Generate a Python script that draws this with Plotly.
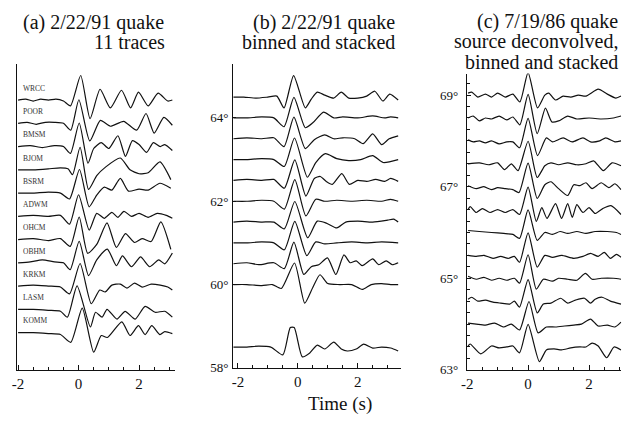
import plotly.graph_objects as go

# ---------------- data ----------------
# Panel (a): 2/22/91 quake, 11 station traces (time s, amplitude)
STATIONS = ["WRCC", "POOR", "BMSM", "BJOM", "BSRM", "ADWM", "OHCM", "OBHM", "KRKM", "LASM", "KOMM"]
WRCC = [(-2.0,0),(-1.75,1),(-1.5,-1),(-1.25,1),(-1.0,0),(-0.75,1),(-0.5,-1),(-0.27,-6),(0.07,25),(0.38,-19),(0.71,11),(1.05,-8),(1.42,10),(1.72,-8),(1.98,8),(2.3,-6),(2.63,7),(2.95,-1),(3.1,0)]
POOR = [(-2.0,0),(-1.7,1),(-1.4,-1),(-1.1,1),(-0.8,1),(-0.5,0),(-0.26,-7),(0.01,24),(0.37,-18),(0.72,3),(1.05,-3),(1.49,2),(1.92,-7),(2.23,10),(2.5,-10),(2.82,6),(3.1,-2)]
BMSM = [(-2.0,0),(-1.6,1),(-1.2,-1),(-0.8,1),(-0.5,0),(-0.27,-7),(0.02,24),(0.31,-17),(0.5,-2),(0.75,4),(1.0,-2),(1.3,11),(1.55,-10),(1.78,6),(2.0,2),(2.25,-6),(2.47,4),(2.7,0),(2.85,2),(3.1,-4)]
BJOM = [(-2.0,0),(-1.5,0),(-1.0,1),(-0.6,2),(-0.35,1),(-0.2,-5),(0.05,23),(0.33,-20),(0.6,-6),(0.9,3),(1.38,12),(1.7,0),(2.0,-4),(2.3,-3),(2.69,8),(3.05,-10)]
BSRM = [(-2.0,0),(-1.5,0),(-1.0,1),(-0.6,0),(-0.3,-6),(0.03,24),(0.35,-14),(0.6,-2),(0.85,6),(1.1,3),(1.38,15),(1.65,2),(2.0,4),(2.3,3),(2.69,10),(3.05,5)]
ADWM = [(-2.0,0),(-1.5,1),(-1.0,0),(-0.6,1),(-0.3,-8),(0.0,22),(0.35,-14),(0.6,3),(0.85,-2),(1.1,4),(1.3,-1),(1.5,5),(1.75,0),(2.0,3),(2.3,-1),(2.6,3),(2.9,1),(3.1,-2)]
OHCM = [(-2.0,0),(-1.5,1),(-1.0,-1),(-0.6,1),(-0.28,-7),(0.02,23),(0.3,-14),(0.6,-5),(0.94,17),(1.25,-8),(1.55,6),(1.85,-3),(2.1,1),(2.4,-2),(2.72,18),(3.05,-10)]
OBHM = [(-2.0,0),(-1.6,1),(-1.2,3),(-0.8,1),(-0.5,0),(-0.28,-7),(0.02,22),(0.33,-13),(0.6,3),(0.95,14),(1.25,-3),(1.45,7),(1.75,-4),(2.05,6),(2.35,-4),(2.65,3),(2.85,-1),(3.1,10)]
KRKM = [(-2.0,0),(-1.5,1),(-1.0,0),(-0.6,-1),(-0.3,-8),(0.05,23),(0.42,-18),(0.7,-4),(0.88,-6),(1.1,1),(1.38,2),(1.6,-2),(1.85,3),(2.1,-1),(2.4,2),(2.7,1),(2.95,-1),(3.1,-4)]
LASM = [(-2.0,0),(-1.5,0),(-1.0,-1),(-0.6,-2),(-0.37,-8),(-0.05,24),(0.39,-18),(0.56,-3),(0.78,-8),(0.94,0),(1.27,-10),(1.54,-2),(1.87,-10),(2.2,3),(2.53,-3),(2.85,-2),(3.1,-8)]
KOMM = [(-2.0,0),(-1.5,0),(-1.0,-1),(-0.6,-2),(-0.26,-10),(0.12,25),(0.5,-20),(0.75,-3),(0.95,-5),(1.43,11),(1.7,-3),(1.98,7),(2.2,-2),(2.42,7),(2.69,-2),(2.85,1),(3.1,-1)]
A_TRACES = [WRCC, POOR, BMSM, BJOM, BSRM, ADWM, OHCM, OBHM, KRKM, LASM, KOMM]

# Panel (b): 2/22/91 quake binned and stacked, latitude bins (deg)
B_LATS = [64.5, 64.0, 63.5, 63.0, 62.5, 62.0, 61.5, 61.0, 60.5, 60.0, 58.5]
B1 = [(-2.15,0),(-1.8,0),(-1.4,-1),(-1.0,0),(-0.7,1),(-0.46,-11),(-0.14,22),(0.25,-11),(0.45,-2),(0.65,5),(0.9,2),(1.2,-1),(1.45,5),(1.7,-1),(2.0,-1),(2.3,1),(2.57,6),(2.84,-4),(3.07,3),(3.35,-3)]
B2 = [(-2.15,0),(-1.7,0),(-1.2,1),(-0.8,0),(-0.46,-9),(-0.13,21),(0.25,-10),(0.5,-5),(0.86,6),(1.2,0),(1.5,1),(2.0,0),(2.5,2),(2.9,0),(3.1,1),(3.35,0)]
B3 = [(-2.15,0),(-1.7,1),(-1.2,0),(-0.8,1),(-0.46,-8),(-0.13,22),(0.25,-10),(0.55,-1),(0.9,4),(1.2,0),(1.5,1),(1.9,0),(2.18,-5),(2.5,5),(2.8,-6),(3.05,0),(3.35,3)]
B4 = [(-2.15,0),(-1.7,0),(-1.2,1),(-0.8,0),(-0.45,-7),(-0.11,22),(0.32,-18),(0.6,-3),(0.92,6),(1.3,1),(1.7,-1),(2.1,0),(2.5,4),(2.85,-3),(3.35,0)]
B5 = [(-2.15,0),(-1.7,1),(-1.2,0),(-0.8,1),(-0.45,-8),(-0.1,21),(0.27,-16),(0.55,2),(0.75,4),(0.95,-1),(1.15,-4),(1.47,7),(1.72,-4),(2.0,0),(2.3,-1),(2.6,1),(2.9,-1),(3.1,2),(3.35,-1)]
B6 = [(-2.15,0),(-1.7,0),(-1.2,1),(-0.8,0),(-0.45,-8),(-0.1,22),(0.27,-15),(0.6,2),(0.9,0),(1.3,1),(1.8,0),(2.3,1),(2.8,0),(3.1,2),(3.35,0)]
B7 = [(-2.15,0),(-1.7,1),(-1.2,0),(-0.8,0),(-0.45,-7),(-0.1,21),(0.33,-16),(0.65,1),(0.95,-1),(1.3,-6),(1.6,0),(2.0,1),(2.5,0),(3.0,2),(3.2,3),(3.35,0)]
B8 = [(-2.15,0),(-1.7,0),(-1.2,1),(-0.8,0),(-0.45,-7),(-0.1,22),(0.3,-13),(0.6,1),(0.9,-1),(1.3,0),(1.8,1),(2.3,0),(2.8,1),(3.35,0)]
B9 = [(-2.15,0),(-1.7,1),(-1.3,-1),(-0.8,1),(-0.45,-5),(-0.13,22),(0.2,-11),(0.45,-3),(0.7,-1),(0.99,6),(1.27,-11),(1.54,9),(1.75,1),(1.95,3),(2.15,-2),(2.5,5),(2.7,-1),(2.95,3),(3.15,-1),(3.35,1)]
B10 = [(-2.15,0),(-1.7,0),(-1.2,-1),(-0.85,0),(-0.55,-4),(-0.11,22),(0.23,-19),(0.5,-3),(0.74,10),(1.0,1),(1.4,0),(1.8,0),(2.15,-5),(2.45,0),(2.8,1),(3.1,0),(3.35,0)]
B11 = [(-2.15,0),(-1.7,0),(-1.3,1),(-0.9,0),(-0.5,-8),(-0.25,20),(-0.12,20),(0.15,-10),(0.4,-6),(0.65,2),(0.9,-2),(1.2,5),(1.45,-2),(1.65,-4),(1.95,-2),(2.2,3),(2.5,-1),(2.8,0),(3.1,-1),(3.35,-4)]
B_TRACES = [B1, B2, B3, B4, B5, B6, B7, B8, B9, B10, B11]

# Panel (c): 7/19/86 quake, source deconvolved, binned and stacked
C_LATS = [69.0, 68.5, 68.0, 67.5, 67.0, 66.5, 66.0, 65.5, 65.0, 64.5, 64.0, 63.5]
C1 = [(-1.97,2),(-1.85,3),(-1.65,-2),(-1.4,1),(-1.2,-2),(-1.0,2),(-0.75,-2),(-0.5,1),(-0.27,-7),(0.0,23),(0.31,-13),(0.55,0),(0.68,2),(0.9,-5),(1.15,-1),(1.4,-2),(1.65,0),(1.9,-1),(2.3,6),(2.6,1),(2.88,-3),(3.05,-1)]
C2 = [(-1.97,0),(-1.8,2),(-1.6,-3),(-1.4,0),(-1.2,-1),(-0.95,2),(-0.7,-2),(-0.5,1),(-0.27,-7),(0.0,24),(0.3,-16),(0.57,10),(0.78,-4),(1.0,-3),(1.3,2),(1.6,-1),(2.0,0),(2.4,-1),(2.8,0),(3.05,2)]
C3 = [(-1.97,1),(-1.8,-1),(-1.6,0),(-1.4,-2),(-1.2,0),(-0.95,-3),(-0.7,-1),(-0.5,-1),(-0.28,-7),(0.0,23),(0.31,-15),(0.6,3),(0.8,-1),(1.15,3),(1.45,-1),(1.8,3),(2.05,-1),(2.35,0),(2.55,3),(2.85,-1),(3.05,0)]
C4 = [(-1.97,0),(-1.6,1),(-1.3,-1),(-1.0,1),(-0.77,-6),(-0.55,0),(-0.33,-7),(0.0,23),(0.3,-14),(0.55,-2),(0.75,1),(1.0,-1),(1.3,1),(1.6,-1),(1.9,0),(2.15,3),(2.47,-7),(2.76,1),(3.05,-2)]
C5 = [(-1.97,1),(-1.7,-2),(-1.45,0),(-1.2,-3),(-1.0,-1),(-0.75,-2),(-0.5,-3),(-0.3,-6),(0.0,24),(0.3,-12),(0.55,2),(0.75,5),(1.0,-2),(1.3,-9),(1.5,2),(1.7,1),(1.9,4),(2.1,-2),(2.4,4),(2.65,-1),(2.85,3),(3.05,-3)]
C6 = [(-1.97,0),(-1.9,3),(-1.7,-3),(-1.5,1),(-1.25,-3),(-1.0,0),(-0.75,-3),(-0.5,0),(-0.28,-5),(0.0,23),(0.27,-12),(0.45,2),(0.62,-9),(0.9,6),(1.1,-9),(1.3,6),(1.45,-8),(1.6,5),(1.8,-3),(2.0,2),(2.2,-4),(2.45,1),(2.72,4),(3.05,-5)]
C7 = [(-1.97,2),(-1.6,1),(-1.2,0),(-0.8,-1),(-0.5,-2),(-0.28,-6),(0.0,23),(0.3,-8),(0.55,0),(0.8,-2),(1.05,1),(1.3,-1),(1.6,1),(1.9,-1),(2.2,1),(2.6,1),(2.9,0),(3.05,-2)]
C8 = [(-1.97,0),(-1.7,-1),(-1.45,0),(-1.15,-3),(-0.9,-1),(-0.65,-3),(-0.45,-1),(-0.28,-7),(0.0,23),(0.3,-12),(0.55,0),(0.8,-2),(1.1,0),(1.5,-3),(1.8,-1),(2.05,2),(2.3,-1),(2.5,3),(2.7,-3),(2.9,1),(3.05,-2)]
C9 = [(-1.97,2),(-1.7,-1),(-1.45,1),(-1.2,-2),(-0.95,0),(-0.7,-2),(-0.45,0),(-0.28,-5),(0.0,24),(0.27,-11),(0.5,-1),(0.8,-3),(1.0,0),(1.3,-1),(1.6,-2),(1.88,5),(2.1,-1),(2.4,0),(2.8,0),(3.05,-1)]
C10 = [(-1.97,2),(-1.85,4),(-1.65,0),(-1.4,1),(-1.15,-1),(-0.9,-2),(-0.6,-3),(-0.45,0),(-0.28,-6),(0.0,22),(0.3,-12),(0.5,-3),(0.75,-2),(1.07,3),(1.3,-2),(1.55,1),(1.85,3),(2.05,-2),(2.2,2),(2.43,4),(2.7,0),(3.05,-3)]
C11 = [(-1.97,1),(-1.7,0),(-1.4,-1),(-1.1,1),(-0.8,-3),(-0.55,0),(-0.28,-6),(0.03,23),(0.33,-9),(0.6,-3),(0.9,-3),(1.2,-2),(1.5,-1),(1.75,0),(2.05,5),(2.3,-2),(2.6,-1),(2.85,-3),(3.05,2)]
C12 = [(-1.97,1),(-1.9,3),(-1.55,-7),(-1.2,1),(-0.95,-1),(-0.7,0),(-0.5,1),(-0.28,-6),(0.0,23),(0.37,-15),(0.6,-3),(0.85,-2),(1.1,-3),(1.4,-1),(1.7,0),(1.9,0),(2.1,4),(2.3,1),(2.58,-11),(2.82,0),(3.05,-3)]
C_TRACES = [C1, C2, C3, C4, C5, C6, C7, C8, C9, C10, C11, C12]

X_TICKS = [-2, 0, 2]
X_TICKTEXT = ["-2", "0", "2"]
B_YTICKS = [58, 60, 62, 64]
C_YTICKS = [63, 65, 67, 69]

# ---------------- figure ----------------
W, H = 625, 422
SERIF = "Liberation Serif"
LINE = dict(color="#111111", width=1.2, shape="spline", smoothing=0.6)

# amplitude gains (amplitude units per axis unit)
A_GAIN, B_GAIN, C_GAIN = 23.7, 42.5, 46.7

fig = go.Figure()

def add_trace(pts, offset, gain, xa, ya):
    t = [p[0] for p in pts]
    y = [offset + p[1] / gain for p in pts]
    fig.add_trace(go.Scatter(x=t, y=y, mode="lines", line=LINE, xaxis=xa, yaxis=ya,
                             hoverinfo="skip", showlegend=False))

n_a = len(A_TRACES)
annotations = []
for i, (name, tr) in enumerate(zip(STATIONS, A_TRACES)):
    off = n_a - 1 - i
    add_trace(tr, off, A_GAIN, "x", "y")
    annotations.append(dict(x=-1.9, y=off + 0.5, xref="x", yref="y", text=name, showarrow=False,
                            xanchor="left", yanchor="middle",
                            font=dict(family=SERIF, size=7.5, color="#333")))
for lat, tr in zip(B_LATS, B_TRACES):
    add_trace(tr, lat, B_GAIN, "x2", "y2")
for lat, tr in zip(C_LATS, C_TRACES):
    add_trace(tr, lat, C_GAIN, "x3", "y3")

def px(v): return v / W
def py(v): return 1 - v / H

def xaxis(d0, d1, rng, anchor):
    return dict(domain=[px(d0), px(d1)], range=rng, anchor=anchor, showline=True, linecolor="#111",
                linewidth=1.2, showgrid=False, zeroline=False, tickmode="array", tickvals=X_TICKS,
                ticktext=X_TICKTEXT, ticks="inside", ticklen=5, tickcolor="#111", tickwidth=1,
                tickfont=dict(family=SERIF, size=15, color="#111"),
                minor=dict(tickmode="linear", tick0=-2, dtick=0.5, ticks="inside", ticklen=3,
                           tickcolor="#111", tickwidth=1))

fig.update_layout(
    width=W, height=H, margin=dict(l=0, r=0, t=0, b=0),
    paper_bgcolor="white", plot_bgcolor="white",
    xaxis=xaxis(11, 171, [-2.04, 3.2], "y"),
    xaxis2=xaxis(229.3, 399.3, [-2.16, 3.46], "y2"),
    xaxis3=xaxis(465.3, 621.3, [-2.01, 3.06], "y3"),
    yaxis=dict(domain=[py(377), py(65)], range=[-1.603, 11.56], anchor="x", showline=True,
               linecolor="#111", linewidth=1.2, showgrid=False, zeroline=False,
               showticklabels=False, ticks=""),
    yaxis2=dict(domain=[py(375), py(65)], range=[58.0, 65.3], anchor="x2", showline=True,
                linecolor="#111", linewidth=1.2, showgrid=False, zeroline=False,
                tickmode="array", tickvals=B_YTICKS, ticktext=[f"{v}°" for v in B_YTICKS],
                ticks="inside", ticklen=3, tickcolor="#111", ticklabelstandoff=1,
                tickfont=dict(family=SERIF, size=13, color="#111")),
    yaxis3=dict(domain=[py(377), py(75)], range=[63.0, 69.47], anchor="x3", showline=True,
                linecolor="#111", linewidth=1.2, showgrid=False, zeroline=False,
                tickmode="array", tickvals=C_YTICKS, ticktext=[f"{v}°" for v in C_YTICKS],
                ticks="inside", ticklen=4, tickcolor="#111", ticklabelstandoff=5,
                tickfont=dict(family=SERIF, size=13, color="#111"),
                minor=dict(tickmode="linear", tick0=63, dtick=0.25, ticks="inside", ticklen=3,
                           tickcolor="#111")),
)

def title(text, x, y, size=20):
    annotations.append(dict(x=px(x), y=py(y), xref="paper", yref="paper", text=text,
                            showarrow=False, xanchor="right", yanchor="middle",
                            font=dict(family=SERIF, size=size, color="#111")))

title("(a) 2/22/91 quake", 162, 22.5)
title("11 traces", 163, 42.5)
title("(b) 2/22/91 quake", 395, 22.5)
title("binned and stacked", 395, 42.5)
title("(c) 7/19/86 quake", 620, 21.5)
title("source deconvolved,", 620, 41.5)
title("binned and stacked", 620, 63.5)
annotations.append(dict(x=px(337), y=py(412), xref="paper", yref="paper", text="Time (s)",
                        showarrow=False, xanchor="center", yanchor="middle",
                        font=dict(family=SERIF, size=19, color="#111")))
fig.update_layout(annotations=annotations)

fig.write_html("out.html", config={"displayModeBar": False},
               post_script="document.body.style.margin='0';")
